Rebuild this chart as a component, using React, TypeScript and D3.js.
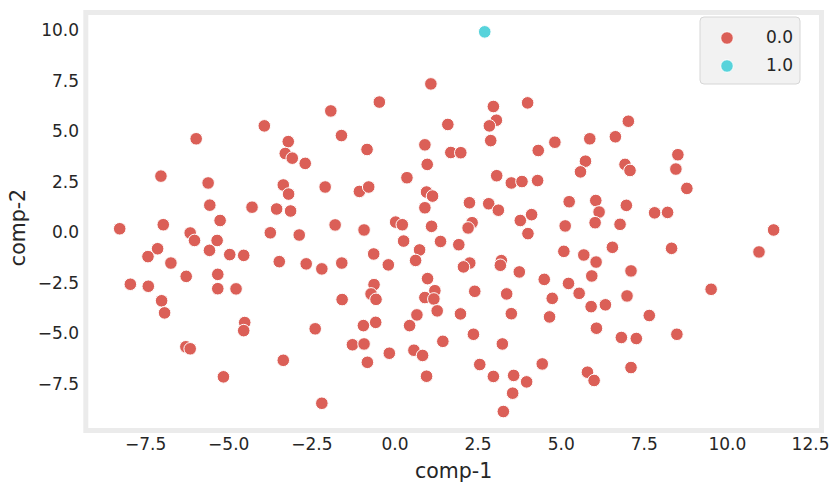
import React from "react";
import * as d3 from "d3";

const width = 831;
const height = 491;
const margin = { top: 12.5, right: 9.5, bottom: 60.5, left: 85.8 };

// comp-1 / comp-2 values for label 0.0
const comp1 = [
  -1.93, -3.93, -5.98, -1.61, -3.21, -3.3, -3.09, -2.7, -7.04, -5.62, -3.36, -2.1, -3.2, -5.57, -4.3, -3.56, -3.14,
  -8.28, -6.97, -5.26, -1.8, -6.16, -6.03, -5.35, -3.75, -2.88, -7.14, -7.43, -5.58, -4.97, -4.55, -6.74, -3.48, -2.67,
  -2.2, -1.6, -6.28, -5.33, -7.96, -7.42, -5.33, -4.78, -7.02, -1.59,
  -6.93, -4.52, -4.55, -2.4, -6.29, -6.16, -3.36, -5.16, -2.2,
  -0.47, -0.84, 1.59, 2.96, 3.05, 2.84, 3.99, 2.88, 4.81, 4.31, 0.9, 1.68, 1.98, 0.97, 0.36, 3.06, 3.5, 3.82, 4.29,
  -1.07, -0.79, 0.95, 1.13, 2.24, 2.82, 0.9, 3.11, 5.24,
  -0.93, 0.02, 0.22, 1.1, 2.32, 2.2, 3.77, 4.11, 4.0, 5.12, 0.26, 1.37, 1.92, 0.74, -0.64, 0.62, -0.2, 2.25, 2.06,
  3.2, 3.17, 3.74, 4.49, 5.08, 0.98, -0.63, -0.72, -0.57, 1.2, 0.9, 1.17, 2.4, 3.36, 4.73, 5.22,
  0.66, 1.27, 1.97, 3.5, 4.65, -0.95, -0.58, 0.44, 2.36, -1.28, -0.93, 1.44, 3.23, -0.17, 0.57, 0.83, -0.83, 2.55, 4.43,
  0.95, 2.96, 3.57, 3.96, 3.54, 3.26,
  7.02, 5.86, 6.63, 8.51, 5.73, 5.58, 6.92, 7.07, 8.45, 8.78, 6.04, 6.96,
  6.14, 7.81, 8.2, 6.02, 6.77, 11.39, 5.68, 6.54, 8.32, 10.95, 6.05, 5.92, 7.1, 5.54, 6.98, 9.51, 5.9, 6.33,
  7.65, 6.06, 6.81, 7.26, 8.48, 7.1, 5.79, 5.99,
  1.08,
];
const comp2 = [
  6.06, 5.32, 4.68, 4.84, 4.54, 3.95, 3.72, 3.46, 2.83, 2.49, 2.39, 2.29, 1.94, 1.39, 1.29, 1.2, 1.1,
  0.22, 0.42, 0.63, 0.41, 0.01, -0.36, -0.36, 0.02, -0.09, -0.77, -1.16, -0.85, -1.06, -1.1, -1.48, -1.41, -1.52,
  -1.77, -1.48, -2.14, -2.04, -2.53, -2.63, -2.75, -2.76, -3.35, -3.29,
  -3.95, -4.43, -4.83, -4.74, -5.63, -5.73, -6.3, -7.12, -8.43,
  6.5, 4.15, 5.39, 6.28, 5.6, 5.32, 6.46, 4.59, 4.51, 4.1, 4.38, 4.0, 3.99, 3.41, 2.75, 2.85, 2.49, 2.56, 2.61,
  2.07, 2.29, 2.04, 1.84, 1.51, 1.46, 1.26, 1.14, 1.56,
  0.16, 0.55, 0.42, 0.34, 0.52, 0.26, 0.63, 0.92, -0.02, 0.36, -0.39, -0.41, -0.57, -0.83, -1.03, -1.35, -1.57, -1.48, -1.67,
  -1.36, -1.59, -1.92, -2.29, -0.9, -2.25, -2.55, -3.01, -3.28, -2.85, -3.19, -3.26, -2.88, -3.01, -3.23, -2.49,
  -4.05, -3.85, -4.0, -3.99, -4.15, -4.58, -4.42, -4.58, -5.01, -5.53, -5.49, -5.36, -5.49, -5.95, -5.8, -6.06, -6.4, -6.51, -6.48,
  -7.09, -7.1, -7.05, -7.37, -7.93, -8.84,
  5.55, 4.68, 4.78, 3.89, 3.57, 3.04, 3.41, 3.11, 3.18, 2.22, 1.62, 1.38,
  1.05, 1.01, 1.03, 0.52, 0.44, 0.16, -1.08, -0.7, -0.75, -0.93, -1.43, -2.12, -1.87, -2.98, -3.11, -2.78, -3.64, -3.55,
  -4.08, -4.71, -5.17, -5.22, -5.01, -6.66, -6.89, -7.3,
  7.4,
];
// label 1.0
const outlierComp1 = [2.7];
const outlierComp2 = [9.98];

const labels = ["0.0", "1.0"];
const colors = ["#db5f57", "#57d3db"];
const xTicks = [-7.5, -5, -2.5, 0, 2.5, 5, 7.5, 10, 12.5];
const yTicks = [-7.5, -5, -2.5, 0, 2.5, 5, 7.5, 10];

const font = "'DejaVu Sans', sans-serif";
const fmt = (v: number) => d3.format(".1f")(v).replace("-", "\u2212");

export default function App() {
  const x = d3.scaleLinear().domain([-9.3, 12.83]).range([margin.left, width - margin.right]);
  const y = d3.scaleLinear().domain([-9.78, 10.94]).range([height - margin.bottom, margin.top]);

  const points = [
    ...comp1.map((v, i) => ({ cx: x(v), cy: y(comp2[i]), c: 0 })),
    ...outlierComp1.map((v, i) => ({ cx: x(v), cy: y(outlierComp2[i]), c: 1 })),
  ];

  const legX = 700;
  const legY = 17;

  return (
    <svg width={width} height={height} style={{ display: "block", position: "absolute", left: 0, top: 0 }}>
      <rect width={width} height={height} fill="#fff" />
      <rect
        x={margin.left}
        y={margin.top}
        width={width - margin.left - margin.right}
        height={height - margin.top - margin.bottom}
        fill="#fff"
        stroke="#ebebeb"
        strokeWidth={5}
      />
      {points.map((p, i) => (
        <circle key={i} cx={p.cx} cy={p.cy} r={6.3} fill={colors[p.c]} stroke="#fff" strokeWidth={1} />
      ))}
      {xTicks.map((t) => (
        <text key={t} x={x(t)} y={445} textAnchor="middle" dominantBaseline="middle" fontFamily={font} fontSize={17} fill="#262626">
          {fmt(t)}
        </text>
      ))}
      {yTicks.map((t) => (
        <text key={t} x={79} y={y(t)} textAnchor="end" dominantBaseline="middle" fontFamily={font} fontSize={17} fill="#262626">
          {fmt(t)}
        </text>
      ))}
      <text x={(margin.left + width - margin.right) / 2} y={472} textAnchor="middle" dominantBaseline="middle" fontFamily={font} fontSize={20.5} fill="#262626">
        comp-1
      </text>
      <text
        transform={`translate(19,${(margin.top + height - margin.bottom) / 2 + 6}) rotate(-90)`}
        textAnchor="middle"
        dominantBaseline="middle"
        fontFamily={font}
        fontSize={20.5}
        fill="#262626"
      >
        comp-2
      </text>
      <g transform={`translate(${legX},${legY})`}>
        <rect width={100} height={67} rx={4} fill="#f2f2f2" stroke="#d6d6d6" strokeWidth={1} />
        {labels.map((l, i) => (
          <g key={l} transform={`translate(0,${21 + i * 28})`}>
            <circle cx={27} cy={0} r={6.3} fill={colors[i]} stroke="#fff" strokeWidth={1} />
            <text x={93} y={0} textAnchor="end" dominantBaseline="middle" fontFamily={font} fontSize={17} fill="#262626">
              {l}
            </text>
          </g>
        ))}
      </g>
    </svg>
  );
}
